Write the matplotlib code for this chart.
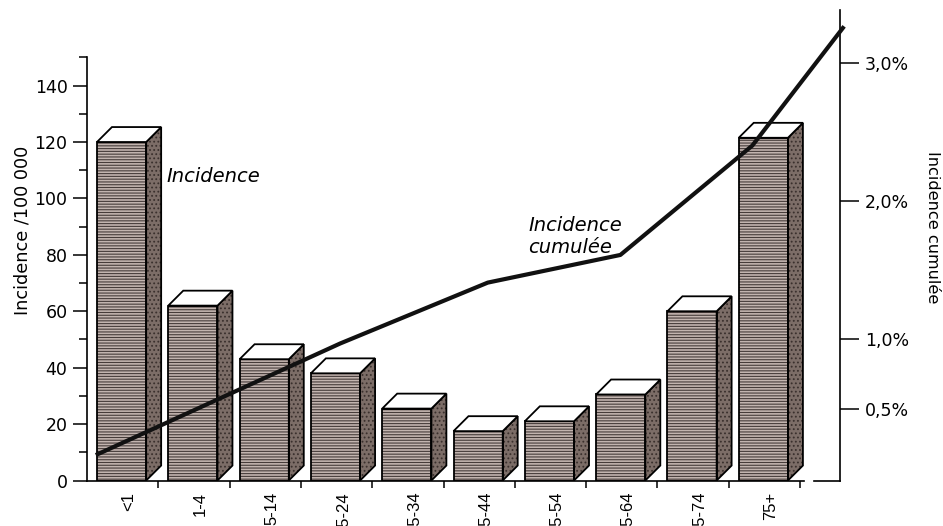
import matplotlib
matplotlib.use("Agg")
import matplotlib.pyplot as plt
from matplotlib.patches import Polygon
from matplotlib.ticker import FixedLocator, NullFormatter

# Incidence per 100 000 by age group
age_groups = ['<1', '1-4', '5-14', '15-24', '25-34', '35-44', '45-54', '55-64', '65-74', '75+']
incidence = [120, 62, 43, 38, 25.5, 17.5, 21, 30.5, 60, 121.5]

# Cumulative incidence (%), x in age-group units (group i spans [i, i+1])
cum_x = [0.15, 3.55, 5.62, 7.48, 9.33, 10.6]
cum_pct = [0.17, 0.97, 1.41, 1.61, 2.40, 3.25]

pct_ticks = [0.5, 1.0, 2.0, 3.0]
pct_labels = ['0,5%', '1,0%', '2,0%', '3,0%']

plt.rcParams['font.family'] = ['DejaVu Sans']
plt.rcParams['hatch.linewidth'] = 0.8

# box geometry (group units / y units)
front_off = 0.14
front_w = 0.69
depth_x = 0.21
depth_y = 5.3

fig = plt.figure(figsize=(9.43, 5.26), dpi=100)
ax = fig.add_axes([87 / 943, 45.5 / 526, 753 / 943, 470.5 / 526])
ax.set_xlim(0, 10.56)
ax.set_ylim(0, 166.8)

pos = [i + front_off for i in range(len(incidence))]
ax.bar(pos, incidence, width=front_w, align='edge', color='#c2b4af',
       edgecolor='#463c3a', linewidth=0, hatch='------', zorder=2)
ax.bar(pos, incidence, width=front_w, align='edge', fill=False,
       edgecolor='black', linewidth=1.3, zorder=3)

for x0, h in zip(pos, incidence):
    x1 = x0 + front_w
    side = [(x1, 0), (x1 + depth_x, depth_y), (x1 + depth_x, h + depth_y), (x1, h)]
    top = [(x0, h), (x0 + depth_x, h + depth_y), (x1 + depth_x, h + depth_y), (x1, h)]
    ax.add_patch(Polygon(side, closed=True, facecolor='#7c6d67', edgecolor='#3a302d',
                         linewidth=0, hatch='....', zorder=2))
    ax.add_patch(Polygon(side, closed=True, fill=False, edgecolor='black',
                         linewidth=1.3, zorder=3))
    ax.add_patch(Polygon(top, closed=True, facecolor='white', edgecolor='black',
                         linewidth=1.3, zorder=3))

# left axis
ax.yaxis.set_major_locator(FixedLocator(range(0, 141, 20)))
ax.yaxis.set_minor_locator(FixedLocator(range(10, 151, 20)))
ax.tick_params(axis='y', which='major', length=10, width=1.1, pad=4, labelsize=12.5)
ax.tick_params(axis='y', which='minor', length=6, width=1.1)

# bottom axis: ticks between groups, labels at box centres
ax.xaxis.set_major_locator(FixedLocator(range(1, 11)))
ax.xaxis.set_major_formatter(NullFormatter())
ax.tick_params(axis='x', which='major', length=5, width=1.1)
centres = [p + (front_w + depth_x) / 2 for p in pos]
ax.set_xticks(centres, minor=True)
ax.set_xticklabels(age_groups, minor=True, rotation=90, fontsize=12,
                   family=['Liberation Sans', 'DejaVu Sans'])
ax.tick_params(axis='x', which='minor', length=0, pad=8)

for s in ['top', 'right']:
    ax.spines[s].set_visible(False)
ax.spines['left'].set_bounds(0, 150)
ax.spines['bottom'].set_bounds(0, 10.05)
for s in ['left', 'bottom']:
    ax.spines[s].set_linewidth(1.2)
ax.axhline(0, xmin=10.2 / 10.56, xmax=1, color='black', lw=1.2, clip_on=False)

# right axis: cumulative incidence
ax2 = ax.twinx()
ax2.set_ylim(-0.02, 3.38)
ax2.yaxis.set_major_locator(FixedLocator(pct_ticks))
ax2.set_yticklabels(pct_labels)
ax2.tick_params(axis='y', length=14, width=1.1, pad=4, labelsize=12.5)
for s in ['left', 'top', 'bottom']:
    ax2.spines[s].set_visible(False)
ax2.spines['right'].set_linewidth(1.2)

ax2.plot(cum_x, cum_pct, color='#111111', lw=3, zorder=5, clip_on=False,
         solid_joinstyle='round')

ax.text(1.12, 107.6, 'Incidence', fontsize=14, style='italic',
        ha='left', va='center', zorder=6)
ax.text(6.19, 86.5, 'Incidence\ncumulée', fontsize=14, style='italic',
        ha='left', va='center', multialignment='left', zorder=6)

fig.text(23 / 943, 1 - 230 / 526, 'Incidence /100 000', rotation=90,
         ha='center', va='center', fontsize=12.7)
fig.text(933 / 943, 1 - 227 / 526, 'Incidence cumulée', rotation=270,
         ha='center', va='center', fontsize=11.6)

fig.savefig('out.png', dpi=100)
